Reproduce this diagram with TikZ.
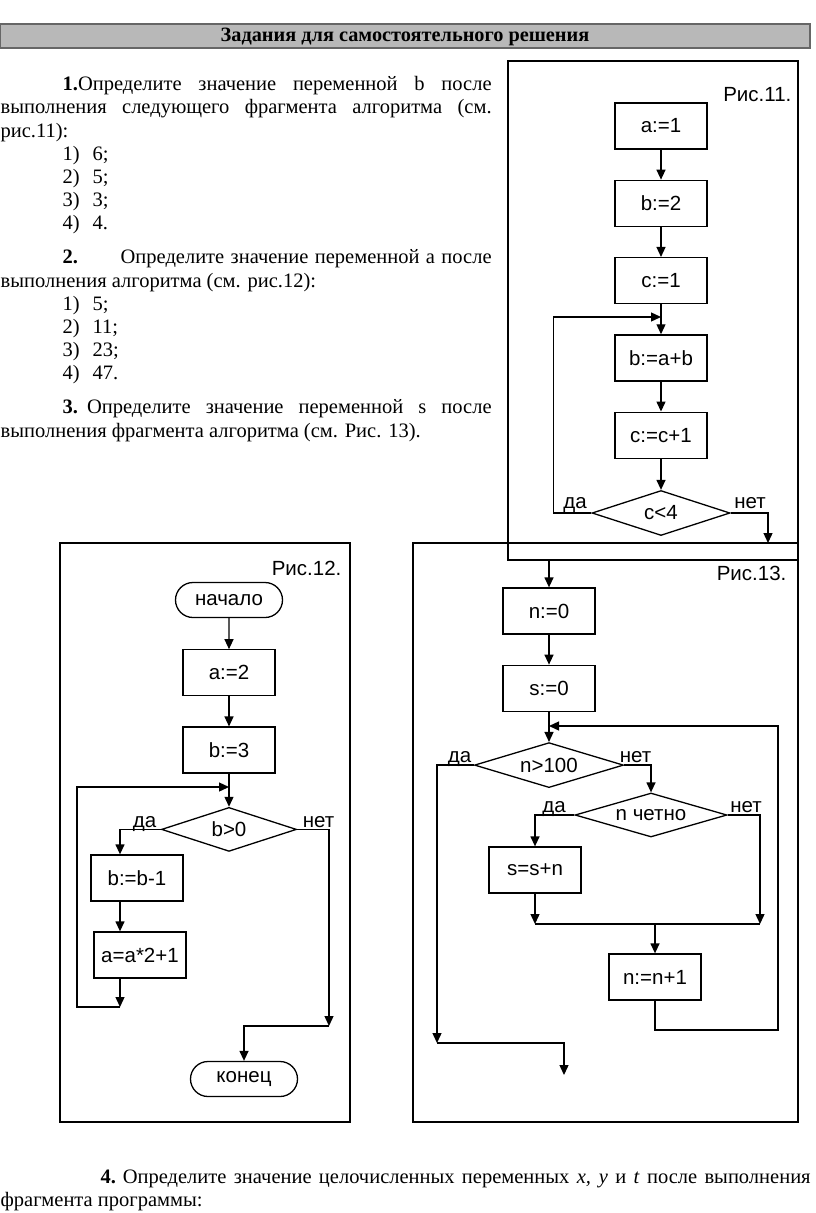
\documentclass[tikz,border=0pt]{standalone}
\usepackage{fontspec}
\setmainfont{Liberation Serif}
\newfontfamily\flowfamily{Liberation Sans}
\usetikzlibrary{shapes.geometric,shapes.misc,arrows.meta,positioning}
\newcommand\bodyfnt{\fontsize{20.5}{23}\selectfont}
\newcommand\flowfnt{\flowfamily\fontsize{20.5}{23}\selectfont}
\tikzset{box/.style={rectangle,draw,minimum width=92pt,minimum height=46pt,inner sep=0pt,font=\flowfnt},
         cond/.style={diamond,draw,aspect=3,minimum height=45pt,inner sep=0pt,font=\flowfnt},
         term/.style={rounded rectangle,draw,minimum width=107pt,minimum height=35pt,inner sep=0pt,font=\flowfnt},
         lbl/.style={inner sep=0pt,font=\flowfnt},
         fig label/.style={anchor=east,inner sep=0pt,font=\flowfnt},
         txt/.style={anchor=base west,inner sep=0pt,font=\bodyfnt},
}

\begin{document}
\begin{tikzpicture}[x=1pt,y=-1pt,line width=1.3pt,
>={Triangle[length=10pt,width=9pt]}]
\useasboundingbox (0,0) rectangle (816,1213);
% header bar
\draw[fill=black!28,draw=black!60,line width=1.5pt] (0,24) rectangle (810,48);
\node[inner sep=0pt,font=\bfseries\fontsize{20.3}{22}\selectfont] (head) at (405,37) {Задания для самостоятельного решения};

% tasks
\node[txt] (q1a) at (62,90) {\makebox[429pt][s]{\textbf{1.}Определите значение переменной b после}};
\node[txt] (q1b) at (0,113) {\makebox[491pt][s]{выполнения следующего фрагмента алгоритма (см.}};
\node[txt] (q1c) at (0,137) {рис.11):};
\foreach \val [count=\i] in {6;,5;,3;,4.}{
    \node[txt] (q1n\i) at (62,137+23*\i) {\i)};
    \node[txt] (q1v\i) at (92,137+23*\i) {\val};
}
\node[txt] (q2n) at (62,263) {\textbf{2.}};
\node[txt] (q2a) at (120,263) {\makebox[371pt][s]{Определите значение переменной a после}};
\node[txt] (q2b) at (0,287) {выполнения алгоритма (см. рис.12):};
\foreach \val [count=\i] in {5;,11;,23;,47.}{
    \node[txt] (q2n\i) at (62,287+23*\i) {\i)};
    \node[txt] (q2v\i) at (92,287+23*\i) {\val};
}
\node[txt] (q3a) at (62,413) {\makebox[429pt][s]{\hbox{\textbf{3.}\hspace{9pt}Определите} значение переменной s после}};
\node[txt] (q3b) at (0,437) {выполнения фрагмента алгоритма (см. Рис. 13).};
\node[txt] (q4a) at (100,1183) {\makebox[710pt][s]{\hbox{\textbf{4.} Определите} значение целочисленных переменных \textit{x, y} и \textit{t} после выполнения}};
\node[txt] (q4b) at (0,1206) {фрагмента программы:};

% frames
\draw (508,61) rectangle (798,560);
\draw (413,543) rectangle (798,1122);
\draw (60,543) rectangle (350,1122);

% fig 11
\node[fig label] (f11) at (792,95) {Рис.11.};
\node[box] (a1) at (661,126) {a:=1};
\node[box,below=30pt of a1] (b2) {b:=2};
\node[box,below=30pt of b2] (c1) {c:=1};
\node[box,below=30pt of c1] (bab) {b:=a+b};
\node[box,below=30pt of bab] (cc) {c:=c+1};
\node[cond,minimum width=138pt,below=31pt of cc] (c4) {c<4};
\coordinate (m11) at (661,317);
\coordinate (o11) at (768,543);
\draw[->] (a1) -- (b2);
\draw[->] (b2) -- (c1);
\draw[->] (c1) -- (bab);
\draw[->] (bab) -- (cc);
\draw[->] (cc) -- (c4);
\draw[->] (c4.west) -- ++(-38,0) |- (m11);
\draw[->] (c4.east) -| (o11);
\node[lbl,anchor=base east] (y11) at ([xshift=-4pt,yshift=5pt]c4.west) {да};
\node[lbl,anchor=base west] (n11) at ([xshift=3pt,yshift=5pt]c4.east) {нет};

% fig 12
\node[fig label] (f12) at (342,568) {Рис.12.};
\node[term] (start) at (229,600) {начало};
\node[box,below=31pt of start] (a2) {a:=2};
\node[box,below=30pt of a2] (b3) {b:=3};
\node[cond,minimum width=135pt,minimum height=44pt,below=33pt of b3] (bgt) {b>0};
\node[box] (bb1) at (137,878) {b:=b-1};
\node[box] (a21) at (140,955) {a=a*2+1};
\node[term] (stop) at (244,1079) {конец};
\coordinate (col12) at (120,0);
\coordinate (m12) at (229,787);
\coordinate (lp12) at (120,1007);
\coordinate (out12) at (329,1026);
\draw[->] (start) -- (a2);
\draw[->] (a2) -- (b3);
\draw[->] (b3) -- (bgt);
\draw[->] (bgt.west) -| (col12 |- bb1.north);
\draw[->] (col12 |- bb1.south) -- (col12 |- a21.north);
\draw[->] (col12 |- a21.south) -- (lp12);
\draw[->] (lp12) -- ++(-43,0) |- (m12);
\draw[->] (bgt.east) -| (out12);
\draw[->] (out12) -| (stop.north);
\node[lbl,anchor=base east] (y12) at ([xshift=-4pt,yshift=2pt]bgt.west) {да};
\node[lbl,anchor=base west] (n12) at ([xshift=5pt,yshift=2pt]bgt.east) {нет};

% fig 13
\node[fig label] (f13) at (787,573) {Рис.13.};
\node[box] (n0) at (549,611) {n:=0};
\node[box,below=30pt of n0] (s0) {s:=0};
\node[cond,minimum width=149pt,below=30pt of s0] (n100) {n>100};
\node[cond,minimum width=152pt,minimum height=44pt] (even) at (651,815) {n четно};
\node[box] (ssn) at (535,870) {s=s+n};
\node[box] (nn1) at (655,977) {n:=n+1};
\coordinate (in13) at (549,560);
\coordinate (m13) at (549,726);
\coordinate (j1) at (535,924);
\coordinate (j2) at (760,924);
\coordinate (ex1) at (437,1043);
\coordinate (ex2) at (564,1075);
\coordinate (r13) at (778,1030);
\draw[->] (in13) -- (n0);
\draw[->] (n0) -- (s0);
\draw[->] (s0) -- (n100);
\draw[->] (n100.west) -| (ex1);
\draw[->] (ex1) -| (ex2);
\draw[->] (n100.east) -| (even.north);
\draw[->] (even.west) -| (ssn.north);
\draw[->] (even.east) -| (j2);
\draw[->] (ssn) -- (j1);
\draw (j1) -- (j2);
\draw[->] (nn1.north |- j1) -- (nn1);
\draw[->] (nn1.south) |- (r13) |- (m13);
\node[lbl,anchor=base east] (y13) at ([xshift=-2pt,yshift=3pt]n100.west) {да};
\node[lbl,anchor=base west] (n13) at ([xshift=-5pt,yshift=3pt]n100.east) {нет};
\node[lbl,anchor=base east] (y13b) at ([xshift=-8pt,yshift=3pt]even.west) {да};
\node[lbl,anchor=base west] (n13b) at ([xshift=2pt,yshift=3pt]even.east) {нет};
\end{tikzpicture}
\end{document}
